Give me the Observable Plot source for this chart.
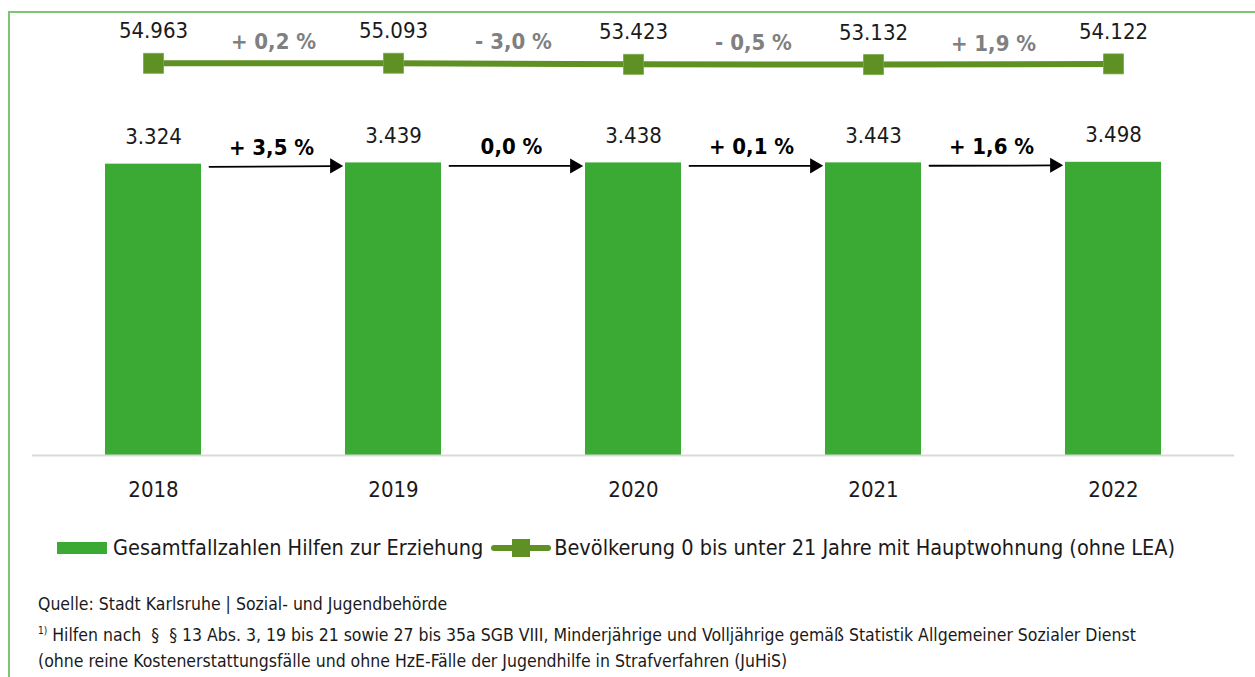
<!DOCTYPE html>
<html>
<head>
<meta charset="utf-8">
<script src="https://cdn.jsdelivr.net/npm/d3@7"></script>
<script src="https://cdn.jsdelivr.net/npm/@observablehq/plot@0.6"></script>
<style>
  html, body { margin: 0; padding: 0; background: #fff; width: 1255px; height: 677px; overflow: hidden; }
  body { position: relative; font-family: "DejaVu Sans Condensed", "Liberation Sans Narrow", "Liberation Sans", sans-serif; color: #1a1a1a; }
  #frame { position: absolute; left: 8px; top: 11px; width: 1300px; height: 700px; border-top: 2px solid #7cc576; border-left: 2px solid #7cc576; }
  #chart { position: absolute; left: 0; top: 0; }
  #legend { position: absolute; left: 57px; top: 535px; display: flex; align-items: center; font-size: 21.5px; white-space: nowrap; }
  .sw-bar { width: 50px; height: 12px; background: #3aaa35; margin-right: 6px; }
  .sw-line { position: relative; width: 60px; height: 20px; margin-left: 8px; margin-right: 3px; }
  .sw-line .ln { position: absolute; left: 0; right: 0; top: 7px; height: 6px; background: #5e9024; border-radius: 3px; }
  .sw-line .sq { position: absolute; left: 21px; top: 1px; width: 18px; height: 18px; background: #5e9024; }
  #notes { position: absolute; left: 38px; top: 591px; font-size: 17.5px; line-height: 26.5px; white-space: nowrap; color: #1a1a1a; }
  sup { font-size: 10px; vertical-align: 7px; }
</style>
</head>
<body>
<div id="frame"></div>
<div id="chart"></div>
<div id="legend">
  <div class="sw-bar"></div><span>Gesamtfallzahlen Hilfen zur Erziehung</span>
  <div class="sw-line"><div class="ln"></div><div class="sq"></div></div><span>Bevölkerung 0 bis unter 21 Jahre mit Hauptwohnung (ohne LEA)</span>
</div>
<div id="notes">
  <div>Quelle: Stadt Karlsruhe | Sozial- und Jugendbehörde</div>
  <div><sup>1)</sup> Hilfen nach &nbsp;§ &nbsp;§ 13 Abs. 3, 19 bis 21 sowie 27 bis 35a SGB VIII, Minderjährige und Volljährige gemäß Statistik Allgemeiner Sozialer Dienst</div>
  <div>(ohne reine Kostenerstattungsfälle und ohne HzE-Fälle der Jugendhilfe in Strafverfahren (JuHiS)</div>
</div>
<script>
const years = ["2018", "2019", "2020", "2021", "2022"];
const cases = [3324, 3439, 3438, 3443, 3498];
const population = [54963, 55093, 53423, 53132, 54122];
const caseChange = ["+ 3,5 %", "0,0 %", "+ 0,1 %", "+ 1,6 %"];
const popChange = ["+ 0,2 %", "- 3,0 %", "- 0,5 %", "+ 1,9 %"];

const de = d3.formatLocale({decimal: ",", thousands: ".", grouping: [3], currency: ["", " €"]});
const fmt = de.format(",d");

const rows = years.map((y, i) => ({year: y, cases: cases[i], pop: population[i]}));
const pairs = caseChange.map((c, i) => ({
  from: years[i], to: years[i + 1],
  c0: cases[i], c1: cases[i + 1],
  p0: population[i], p1: population[i + 1],
  caseLabel: c, popLabel: popChange[i]
}));

const font = '"DejaVu Sans Condensed", "Liberation Sans Narrow", "Liberation Sans", sans-serif';
const barColor = "#3aaa35";
const lineColor = "#5e9024";

const chart = Plot.plot({
  width: 1255,
  height: 500,
  marginTop: 0,
  marginBottom: 45,
  marginLeft: 32,
  marginRight: 21,
  style: {fontFamily: font, fontSize: "22px", color: "#1a1a1a", background: "transparent", overflow: "visible"},
  x: {type: "band", domain: years, paddingInner: 0.6, paddingOuter: 0.3, axis: null},
  y: {type: "log", domain: [1, 315900], axis: null},
  marks: [
    Plot.barY(rows, {x: "year", y1: 1, y2: "cases", fill: barColor}),
    Plot.ruleY([1], {stroke: "#d9d9d9", strokeWidth: 2}),
    Plot.text(rows, {x: "year", text: "year", frameAnchor: "bottom", lineAnchor: "middle", dy: 34, fill: "#1a1a1a"}),
    Plot.text(rows, {x: "year", y: "cases", text: d => fmt(d.cases), dy: -27, fill: "#1a1a1a"}),
    Plot.line(rows, {x: "year", y: "pop", stroke: lineColor, strokeWidth: 6}),
    Plot.dot(rows, {x: "year", y: "pop", symbol: "square", r: 11.28, fill: lineColor, stroke: "#79a84a", strokeWidth: 0.8}),
    Plot.text(rows, {x: "year", y: "pop", text: d => fmt(d.pop), dy: -32, fill: "#1a1a1a"}),
    Plot.text(pairs, {x: "from", y: "p0", text: "popLabel", dx: 120, dy: -21, fill: "#808080", fontWeight: "bold"}),
    Plot.text(pairs, {x: "from", y: "c0", text: "caseLabel", dx: 118, dy: -16, fill: "#000", fontWeight: "bold"}),
    Plot.arrow(pairs, {x1: "from", y1: "c0", x2: "to", y2: "c1", insetStart: 56, insetEnd: 60, headLength: 0, stroke: "#000", strokeWidth: 1.8, dy: 3}),
    Plot.dot(pairs, {x: "to", y: "c1", symbol: "triangle", rotate: 90, r: 5.6, fill: "#000", dx: -59, dy: 3})
  ]
});
document.getElementById("chart").appendChild(chart);
</script>
</body>
</html>
